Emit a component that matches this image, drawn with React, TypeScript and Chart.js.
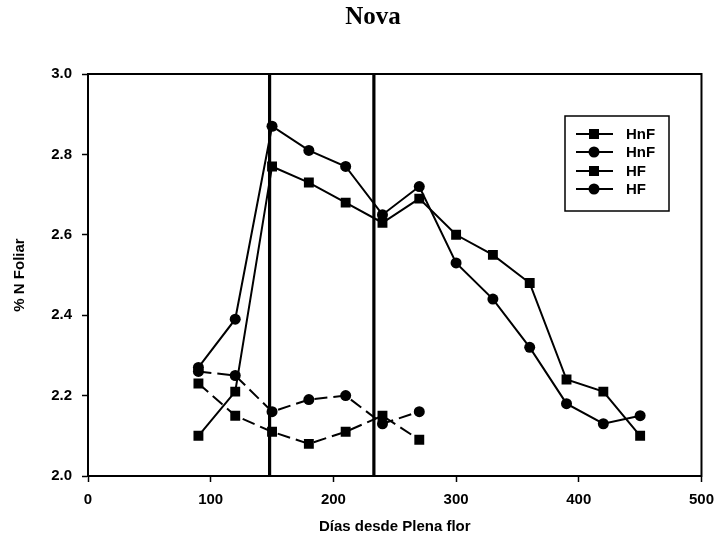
import React, { useEffect, useRef } from "react";
import { Chart, registerables } from "chart.js";

Chart.register(...registerables);

// Sampling days after full bloom
const daysLong = [90, 120, 150, 180, 210, 240, 270, 300, 330, 360, 390, 420, 450];
const daysShort = [90, 120, 150, 180, 210, 240, 270];

// Leaf nitrogen (%) per series
const hnfSquare = [2.1, 2.21, 2.77, 2.73, 2.68, 2.63, 2.69, 2.6, 2.55, 2.48, 2.24, 2.21, 2.1];
const hnfCircle = [2.27, 2.39, 2.87, 2.81, 2.77, 2.65, 2.72, 2.53, 2.44, 2.32, 2.18, 2.13, 2.15];
const hfSquare = [2.23, 2.15, 2.11, 2.08, 2.11, 2.15, 2.09];
const hfCircle = [2.26, 2.25, 2.16, 2.19, 2.2, 2.13, 2.16];

const seriesLabels = ["HnF", "HnF", "HF", "HF"];
const markerDays = [148, 233];
const xTickValues = [0, 100, 200, 300, 400, 500];
const yTickValues = [2.0, 2.2, 2.4, 2.6, 2.8, 3.0];

const SANS = "'Liberation Sans', Arial, sans-serif";
const SERIF = "'Liberation Serif', 'Times New Roman', serif";

const toPoints = (xs: number[], ys: number[]) => xs.map((x, i) => ({ x, y: ys[i] }));

const drawMarker = (ctx: CanvasRenderingContext2D, style: string, x: number, y: number) => {
  ctx.beginPath();
  if (style === "rect") {
    ctx.rect(x - 5, y - 5, 10, 10);
  } else {
    ctx.arc(x, y, 5.5, 0, Math.PI * 2);
  }
  ctx.fill();
};

const framePlugin = {
  id: "frameAndMarkers",
  beforeDatasetsDraw(chart: any) {
    const { ctx, chartArea, scales } = chart;
    ctx.save();
    ctx.strokeStyle = "#000";
    ctx.lineWidth = 2;
    ctx.strokeRect(chartArea.left, chartArea.top, chartArea.right - chartArea.left, chartArea.bottom - chartArea.top);
    ctx.lineWidth = 3.2;
    markerDays.forEach((d) => {
      const px = scales.x.getPixelForValue(d);
      ctx.beginPath();
      ctx.moveTo(px, chartArea.top);
      ctx.lineTo(px, chartArea.bottom);
      ctx.stroke();
    });
    ctx.restore();
  },
  afterDraw(chart: any) {
    const { ctx } = chart;
    ctx.save();
    // heading
    ctx.fillStyle = "#000";
    ctx.font = `bold 25px ${SERIF}`;
    ctx.textAlign = "center";
    ctx.textBaseline = "middle";
    ctx.fillText("Nova", 373, 18);

    // legend box
    ctx.strokeStyle = "#000";
    ctx.lineWidth = 1.5;
    ctx.strokeRect(565, 116, 104, 95);
    const rows = [134, 152, 171, 189];
    ctx.font = `bold 15px ${SANS}`;
    ctx.textAlign = "left";
    chart.data.datasets.forEach((ds: any, i: number) => {
      const y = rows[i];
      ctx.lineWidth = 2;
      ctx.beginPath();
      ctx.moveTo(576, y);
      ctx.lineTo(613, y);
      ctx.stroke();
      drawMarker(ctx, ds.pointStyle, 594, y);
      ctx.fillText(ds.label, 626, y + 1);
    });
    ctx.restore();
  },
};

export default function App() {
  const canvasRef = useRef<HTMLCanvasElement | null>(null);

  useEffect(() => {
    if (!canvasRef.current) return;
    const solid = { borderColor: "#000", backgroundColor: "#000", borderWidth: 2, pointBorderWidth: 0, pointBackgroundColor: "#000" };
    const chart = new Chart(canvasRef.current, {
      type: "line",
      data: {
        datasets: [
          { ...solid, label: seriesLabels[0], data: toPoints(daysLong, hnfSquare), pointStyle: "rect", pointRadius: 7 },
          { ...solid, label: seriesLabels[1], data: toPoints(daysLong, hnfCircle), pointStyle: "circle", pointRadius: 5.5 },
          { ...solid, label: seriesLabels[2], data: toPoints(daysShort, hfSquare), pointStyle: "rect", pointRadius: 7, borderDash: [13, 6] },
          { ...solid, label: seriesLabels[3], data: toPoints(daysShort, hfCircle), pointStyle: "circle", pointRadius: 5.5, borderDash: [13, 6] },
        ] as any,
      },
      options: {
        animation: false,
        responsive: false,
        devicePixelRatio: 1,
        layout: { padding: { top: 74, right: 18, left: 0, bottom: 0 } },
        plugins: { legend: { display: false }, tooltip: { enabled: false } },
        elements: { line: { tension: 0 } },
        scales: {
          x: {
            type: "linear",
            min: 0,
            max: 500,
            afterBuildTicks: (s: any) => {
              s.ticks = xTickValues.map((value) => ({ value }));
            },
            afterFit: (s: any) => {
              s.height = 65;
            },
            grid: { drawOnChartArea: false, tickLength: 6, tickColor: "#000", tickWidth: 1.5 },
            border: { color: "#000", width: 2 },
            ticks: { color: "#000", padding: 9, maxRotation: 0, font: { family: SANS, size: 15, weight: "bold" } },
            title: { display: true, text: "Días desde Plena flor", color: "#000", padding: { top: 0, bottom: 5 }, font: { family: SANS, size: 15, weight: "bold" } },
          },
          y: {
            type: "linear",
            min: 2,
            max: 3,
            afterBuildTicks: (s: any) => {
              s.ticks = yTickValues.map((value) => ({ value }));
            },
            afterFit: (s: any) => {
              s.width = 88;
            },
            grid: { drawOnChartArea: false, tickLength: 6, tickColor: "#000", tickWidth: 1.5 },
            border: { color: "#000", width: 2 },
            ticks: { color: "#000", padding: 10, callback: (v: any) => Number(v).toFixed(1), font: { family: SANS, size: 15, weight: "bold" } },
            title: { display: true, text: "% N Foliar", color: "#000", padding: { top: 11, bottom: 0 }, font: { family: SANS, size: 15, weight: "bold" } },
          },
        },
      } as any,
      plugins: [framePlugin],
    });
    return () => chart.destroy();
  }, []);

  return (
    <div style={{ position: "fixed", left: 0, top: 0, width: 723, height: 541, background: "#fff" }}>
      <canvas ref={canvasRef} width={723} height={541} style={{ width: 723, height: 541, display: "block" }} />
    </div>
  );
}
